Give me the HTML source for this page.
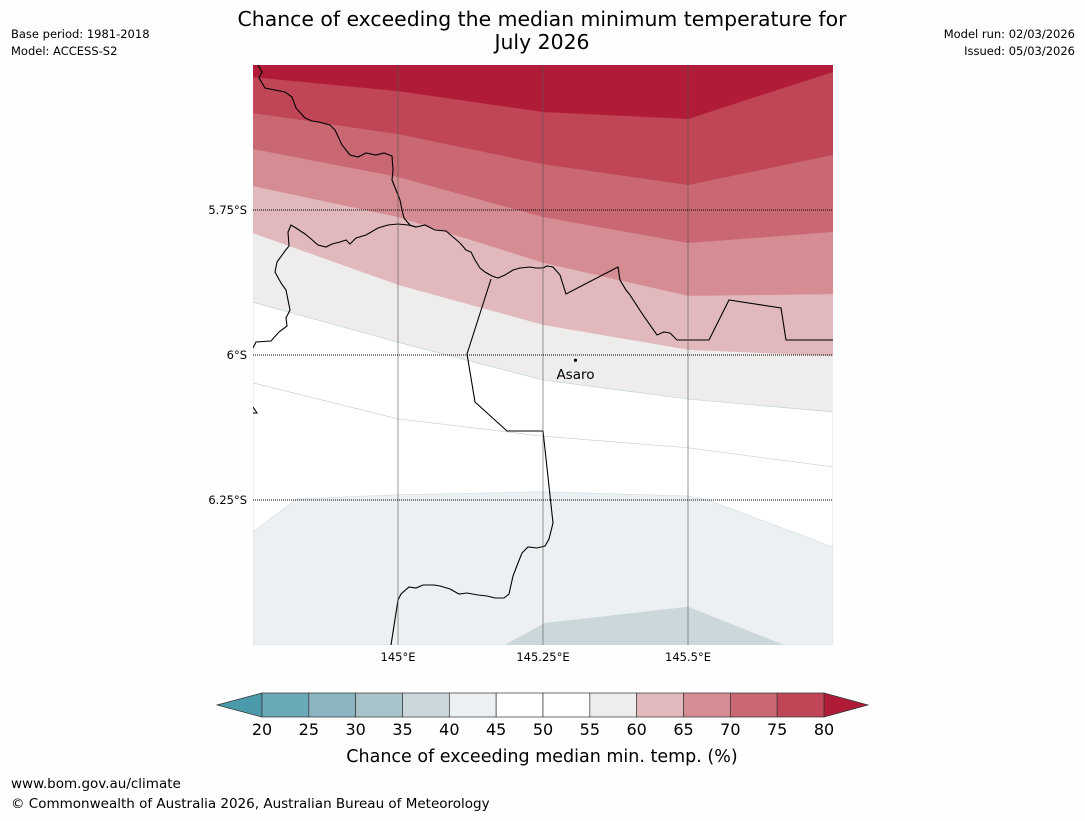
<!DOCTYPE html>
<html><head><meta charset="utf-8"><style>
body{margin:0;background:#fdfefd;font-family:"Liberation Sans","DejaVu Sans",sans-serif;}
svg text{font-family:"DejaVu Sans","Liberation Sans",sans-serif;}
</style></head><body>
<svg id="chart" width="1085" height="816" viewBox="0 0 1085 816" xmlns="http://www.w3.org/2000/svg">
<rect width="1085" height="816" fill="#fdfefd"/>
<text x="542" y="26" font-size="20.4" text-anchor="middle">Chance of exceeding the median minimum temperature for</text>
<text x="542" y="49" font-size="20.4" text-anchor="middle">July 2026</text>
<text x="11" y="38" font-size="11.5">Base period: 1981-2018</text>
<text x="11" y="55" font-size="11.5">Model: ACCESS-S2</text>
<text x="1075" y="38" font-size="11.5" text-anchor="end">Model run: 02/03/2026</text>
<text x="1075" y="55" font-size="11.5" text-anchor="end">Issued: 05/03/2026</text>
<defs><clipPath id="mapclip"><rect x="253" y="65" width="580" height="580"/></clipPath></defs>
<g id="map" clip-path="url(#mapclip)"></g>
<g id="overlay"></g>
<g id="cbar"></g>
<text x="542" y="762" font-size="17.5" text-anchor="middle">Chance of exceeding median min. temp. (%)</text>
<text x="11" y="788" font-size="13.5">www.bom.gov.au/climate</text>
<text x="11" y="808" font-size="13.5">© Commonwealth of Australia 2026, Australian Bureau of Meteorology</text>
</svg>
<script>
const lons = [144.75, 145.0, 145.25, 145.5, 145.75];
const levels = [80, 75, 70, 65, 60, 55, 50];
const bound80 = [5.521, 5.545, 5.581, 5.593, 5.512];
const bound75 = [5.583, 5.619, 5.671, 5.707, 5.655];
const bound70 = [5.645, 5.693, 5.762, 5.807, 5.788];
const bound65 = [5.709, 5.762, 5.841, 5.898, 5.895];
const bound60 = [5.790, 5.879, 5.948, 5.991, 6.002];
const bound55 = [5.909, 5.978, 6.043, 6.076, 6.098];
const bound50 = [6.048, 6.110, 6.140, 6.160, 6.193];
const band40Lon = [144.75, 144.826, 145.0, 145.25, 145.5, 145.534, 145.75, 145.75, 144.75];
const band40Lat = [6.305, 6.248, 6.241, 6.236, 6.243, 6.250, 6.331, 6.5, 6.5];
const band35Lon = [145.184, 145.253, 145.5, 145.666];
const band35Lat = [6.5, 6.462, 6.434, 6.5];
const cbLevels = [20,25,30,35,40,45,50,55,60,65,70,75,80];
const cbColors = ["#6aa9b8","#8bb6c1","#a8c4ca","#cbd7da","#ecf0f2","#ffffff","#ffffff","#efecec","#e1b9bd","#d68c93","#c96772","#c04556"];
const xTicks = [145.0, 145.25, 145.5];
const xTickLabels = ["145°E","145.25°E","145.5°E"];
const yTicks = [5.75, 6.0, 6.25];
const yTickLabels = ["5.75°S","6°S","6.25°S"];

const X = lon => 253 + (lon - 144.75) * 580;
const Y = lat => 65 + (lat - 5.5) * 580;
const NS = "http://www.w3.org/2000/svg";
function mk(parent, tag, attrs){const e=document.createElementNS(NS,tag);for(const k in attrs)e.setAttribute(k,attrs[k]);parent.appendChild(e);return e;}
const map=document.getElementById('map');
const bounds=[bound80,bound75,bound70,bound65,bound60,bound55,bound50];
const fills=["#c04556","#c96772","#d68c93","#e1b9bd","#efecec","#ffffff","#ffffff"];
let r=mk(map,'rect',{x:253,y:65,width:580,height:580,fill:"#b01c38"});


bounds.forEach((b,i)=>{
  let pts=lons.map((lo,j)=>X(lo)+','+Y(b[j])).join(' ')+` ${X(145.75)},${Y(6.5)} ${X(144.75)},${Y(6.5)}`;
  const p=mk(map,'polygon',{points:pts,fill:fills[i],stroke:i>=5?"#c5d3d8":"none","stroke-width":0.7});
  
  
});
let p40=mk(map,'polygon',{points:band40Lon.map((lo,j)=>X(lo)+','+Y(band40Lat[j])).join(' '),fill:"#ecf0f2",stroke:"#d5dfe3","stroke-width":0.7});


let p35=mk(map,'polygon',{points:band35Lon.map((lo,j)=>X(lo)+','+Y(band35Lat[j])).join(' '),fill:"#cbd7da"});


const borders=[
"258,65 262,72 259,78 265,88 285,92 292,97 296,108 305,118 312,121 319,122 330,125 335,130 342,145 350,155 358,157 366,153 376,155 384,153 392,156 393,170 392,180 396,190 400,200 402,210 404,218 410,225 416,227 425,225 435,230 446,231 453,237 460,243 466,250 471,252 475,260 480,268 485,272 492,276 498,278 505,275 513,270 520,268 530,267 536,268 543,268 547,266 553,267 560,275 566,294 618,267 620,280 626,290 630,295 643,315 657,335 664,332 670,333 677,340 709,340 729,300 781,308 786,340 833,340",
"253,348 256,342 271,341 279,332 287,326 286,318 290,310 288,300 286,290 281,283 275,272 277,262 285,251 289,246 288,232 291,225 296,228 305,234 310,238 318,245 326,247 332,244 340,242 346,240 350,244 356,238 366,235 378,228 388,225 398,224 408,225 416,227",
"491,279 467,354 475,402 507,431 543,431 553,523 549,539 545,546 537,548 528,547 522,553 518,563 513,576 511,585 509,594 504,598 495,598 487,596 478,595 467,593 459,594 450,589 440,586 434,585 423,585 416,588 409,587 401,594 398,600 391,645",
"253,407 257,413 253,413"];
borders.forEach((b,i)=>{const e=mk(map,'polyline',{points:b,fill:"none",stroke:"#000","stroke-width":1.1});

});
const ov=document.getElementById('overlay');
xTicks.forEach((t,i)=>{
  const l=mk(ov,'line',{x1:X(t),x2:X(t),y1:65,y2:645,stroke:"#555","stroke-opacity":0.6,"stroke-width":1});
  
  
  const tx=mk(ov,'text',{x:X(t),y:661,"font-size":11.5,"text-anchor":"middle"});tx.textContent=xTickLabels[i];
  
  
});
yTicks.forEach((t,i)=>{
  const l=mk(ov,'line',{x1:253,x2:833,y1:Y(t),y2:Y(t),stroke:"#000","stroke-width":1,"stroke-dasharray":"1,1"});
  
  
  const tx=mk(ov,'text',{x:247,y:Y(t)+4,"font-size":11.5,"text-anchor":"end"});tx.textContent=yTickLabels[i];
  
  
});
const dot=mk(ov,'circle',{cx:X(145.306),cy:Y(6.009),r:1.6,fill:"#000"});


const lab=mk(ov,'text',{x:X(145.306),y:Y(6.009)+19,"font-size":13.5,"text-anchor":"middle"});lab.textContent="Asaro";


const cb=document.getElementById('cbar');
const CX=v=>262+(v-20)*(562/60);
const cy0=693,cy1=717;
let la=mk(cb,'polygon',{points:`217,705 ${CX(20)},${cy0} ${CX(20)},${cy1}`,fill:"#4a9aab",stroke:"#333","stroke-width":0.7});


let ra=mk(cb,'polygon',{points:`868,705 ${CX(80)},${cy0} ${CX(80)},${cy1}`,fill:"#b01c38",stroke:"#333","stroke-width":0.7});


cbColors.forEach((c,i)=>{
  const e=mk(cb,'rect',{x:CX(cbLevels[i]),y:cy0,width:CX(cbLevels[i+1])-CX(cbLevels[i]),height:cy1-cy0,fill:c,stroke:"#333","stroke-width":0.7});
  
  
});
cbLevels.forEach(v=>{
  const t=mk(cb,'text',{x:CX(v),y:735,"font-size":16,"text-anchor":"middle"});t.textContent=v;
  
  
});
</script>
</body></html>
